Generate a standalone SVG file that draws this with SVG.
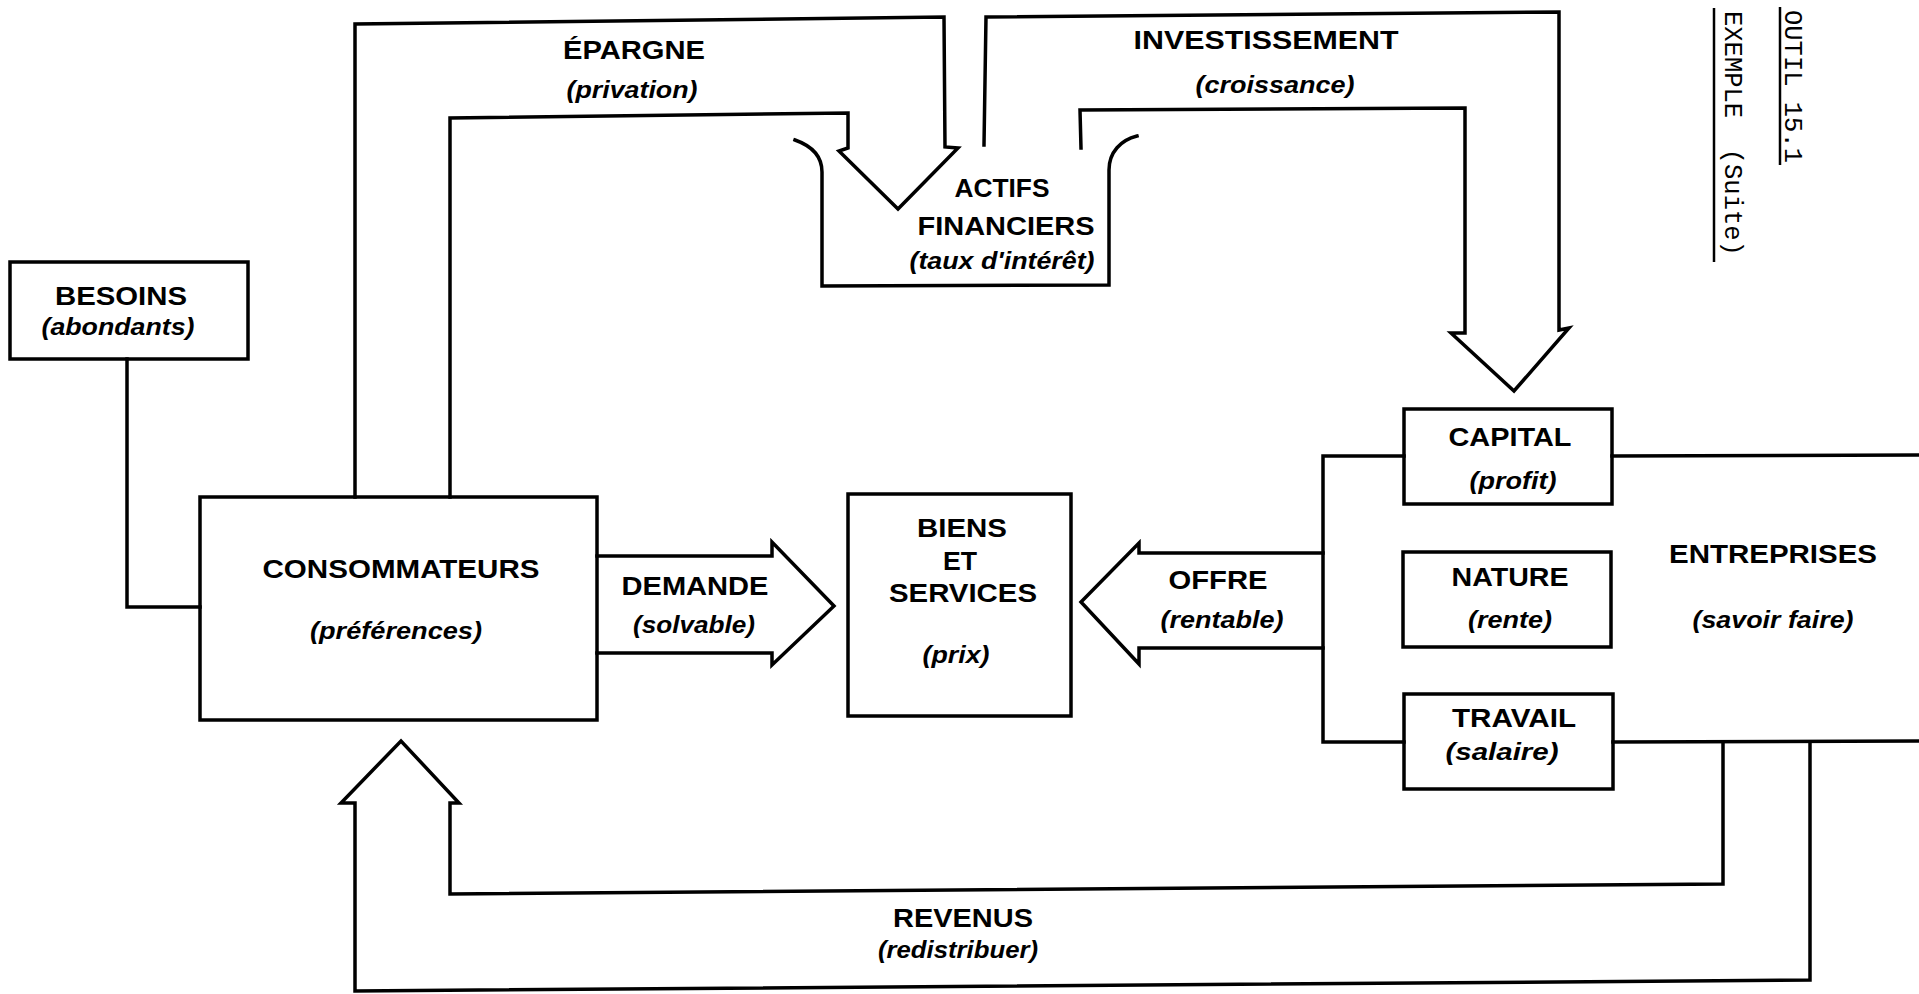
<svg xmlns="http://www.w3.org/2000/svg" width="1919" height="994" viewBox="0 0 1919 994">
<style>
.box{fill:none;stroke:#000;stroke-width:3.5;stroke-linejoin:miter}
.ln{fill:none;stroke:#000;stroke-width:3.5;stroke-linejoin:miter;stroke-linecap:square}
.b{font-family:"Liberation Sans",Arial,sans-serif;font-weight:bold;font-size:26px;fill:#000;text-anchor:middle}
.i{font-family:"Liberation Sans",Arial,sans-serif;font-weight:bold;font-style:italic;font-size:24px;fill:#000;text-anchor:middle}
.m{font-family:"Liberation Mono","Courier New",monospace;font-size:25.5px;fill:#000;white-space:pre}
</style>
<rect width="1919" height="994" fill="#fff"/>

<g id="connectors">
  <!-- BESOINS to CONSOMMATEURS -->
  <path class="ln" d="M127,359 L127,607 L200,607"/>
  <!-- EPARGNE arrow -->
  <path class="ln" d="M450,497 L450,118 L848,113 L848,148 L839,151 L898,209 L958,148 L945,147 L944,17 L355,24 L355,497"/>
  <!-- INVESTISSEMENT arrow -->
  <path class="ln" d="M984,145 L986,17 L1559,12 L1559,330 L1569,328 L1514,391 L1451,333 L1465,333 L1465,108 L1080,110 L1081,148"/>
  <!-- DEMANDE arrow -->
  <path class="ln" d="M597,556 L772,556 L772,542 L834,606 L772,665 L772,653 L597,653"/>
  <!-- OFFRE arrow -->
  <path class="ln" d="M1323,553 L1139,553 L1139,543 L1081,602 L1139,664 L1139,648 L1323,648"/>
  <!-- REVENUS arrow -->
  <path class="ln" d="M1723,742 L1723,884 L450,894 L450,803 L459,803 L401,741 L341,803 L355,803 L355,991 L1810,980 L1810,742"/>
</g>

<g id="besoins">
  <rect class="box" x="10" y="262" width="238" height="97"/>
  <text class="b" x="121" y="305" textLength="132" lengthAdjust="spacingAndGlyphs">BESOINS</text>
  <text class="i" x="118" y="335" textLength="153" lengthAdjust="spacingAndGlyphs">(abondants)</text>
</g>

<g id="consommateurs">
  <rect class="box" x="200" y="497" width="397" height="223"/>
  <text class="b" x="401" y="578" textLength="277" lengthAdjust="spacingAndGlyphs">CONSOMMATEURS</text>
  <text class="i" x="396" y="639" textLength="172" lengthAdjust="spacingAndGlyphs">(préférences)</text>
</g>

<g id="epargne-label">
  <text class="b" x="634" y="59" textLength="142" lengthAdjust="spacingAndGlyphs">ÉPARGNE</text>
  <text class="i" x="632" y="98" textLength="131" lengthAdjust="spacingAndGlyphs">(privation)</text>
</g>

<g id="investissement-label">
  <text class="b" x="1266" y="49" textLength="265" lengthAdjust="spacingAndGlyphs">INVESTISSEMENT</text>
  <text class="i" x="1275" y="93" textLength="159" lengthAdjust="spacingAndGlyphs">(croissance)</text>
</g>

<g id="actifs-financiers">
  <path class="ln" d="M795,140 C812,146 822,156 822,172 L822,286 L1109,285 L1109,170 C1109,152 1121,140 1137,136"/>
  <text class="b" x="1002" y="197" textLength="95" lengthAdjust="spacingAndGlyphs">ACTIFS</text>
  <text class="b" x="1006" y="235" textLength="177" lengthAdjust="spacingAndGlyphs">FINANCIERS</text>
  <text class="i" x="1002" y="269" textLength="185" lengthAdjust="spacingAndGlyphs">(taux d'intérêt)</text>
</g>

<g id="demande-label">
  <text class="b" x="695" y="595" textLength="147" lengthAdjust="spacingAndGlyphs">DEMANDE</text>
  <text class="i" x="694" y="633" textLength="122" lengthAdjust="spacingAndGlyphs">(solvable)</text>
</g>

<g id="biens-services">
  <rect class="box" x="848" y="494" width="223" height="222"/>
  <text class="b" x="962" y="537" textLength="90" lengthAdjust="spacingAndGlyphs">BIENS</text>
  <text class="b" x="960" y="570" textLength="34" lengthAdjust="spacingAndGlyphs">ET</text>
  <text class="b" x="963" y="602" textLength="148" lengthAdjust="spacingAndGlyphs">SERVICES</text>
  <text class="i" x="956" y="663" textLength="67" lengthAdjust="spacingAndGlyphs">(prix)</text>
</g>

<g id="offre-label">
  <text class="b" x="1218" y="589" textLength="99" lengthAdjust="spacingAndGlyphs">OFFRE</text>
  <text class="i" x="1222" y="628" textLength="123" lengthAdjust="spacingAndGlyphs">(rentable)</text>
</g>

<g id="entreprises">
  <path class="ln" d="M1404,456 L1323,456 L1323,742 L1404,742"/>
  <path class="ln" d="M1612,456 L1919,455"/>
  <path class="ln" d="M1613,742 L1919,741"/>
  <text class="b" x="1773" y="563" textLength="208" lengthAdjust="spacingAndGlyphs">ENTREPRISES</text>
  <text class="i" x="1773" y="628" textLength="161" lengthAdjust="spacingAndGlyphs">(savoir faire)</text>
</g>

<g id="capital">
  <rect class="box" x="1404" y="409" width="208" height="95"/>
  <text class="b" x="1510" y="446" textLength="123" lengthAdjust="spacingAndGlyphs">CAPITAL</text>
  <text class="i" x="1513" y="489" textLength="87" lengthAdjust="spacingAndGlyphs">(profit)</text>
</g>

<g id="nature">
  <rect class="box" x="1403" y="552" width="208" height="95"/>
  <text class="b" x="1510" y="586" textLength="117" lengthAdjust="spacingAndGlyphs">NATURE</text>
  <text class="i" x="1510" y="628" textLength="84" lengthAdjust="spacingAndGlyphs">(rente)</text>
</g>

<g id="travail">
  <rect class="box" x="1404" y="694" width="209" height="95"/>
  <text class="b" x="1514" y="727" textLength="124" lengthAdjust="spacingAndGlyphs">TRAVAIL</text>
  <text class="i" x="1502" y="760" textLength="113" lengthAdjust="spacingAndGlyphs">(salaire)</text>
</g>

<g id="revenus-label">
  <text class="b" x="963" y="927" textLength="140" lengthAdjust="spacingAndGlyphs">REVENUS</text>
  <text class="i" x="958" y="958" textLength="160" lengthAdjust="spacingAndGlyphs">(redistribuer)</text>
</g>

<g id="header">
  <text class="m" transform="translate(1785,10) rotate(90)" x="0" y="0">OUTIL 15.1</text>
  <line x1="1780" y1="7" x2="1780" y2="165" stroke="#000" stroke-width="2.5"/>
  <text class="m" transform="translate(1725,11) rotate(90)" x="0" y="0" xml:space="preserve">EXEMPLE  (Suite)</text>
  <line x1="1714" y1="8" x2="1714" y2="262" stroke="#000" stroke-width="2.5"/>
</g>
</svg>
